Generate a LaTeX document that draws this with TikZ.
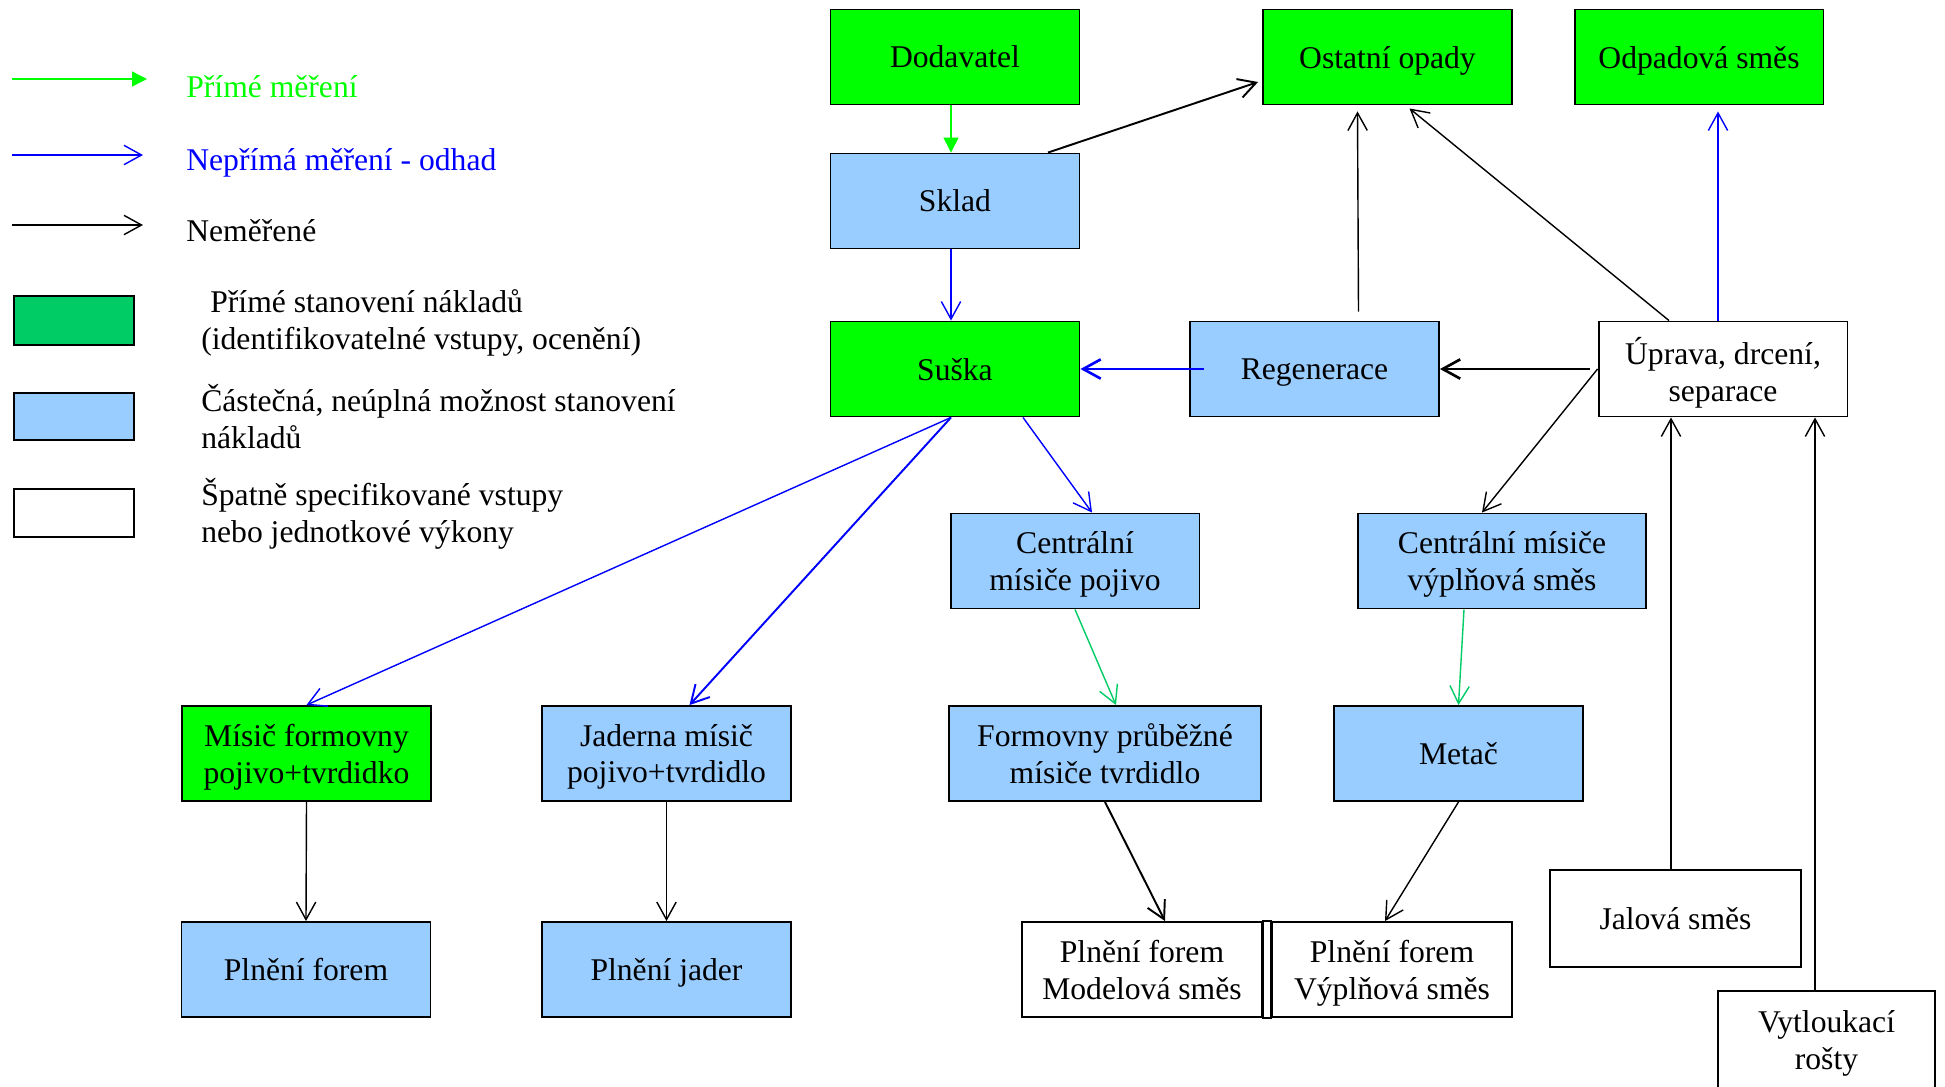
\documentclass[tikz,border=0pt]{standalone}
\usepackage{fontspec}
\setmainfont{Liberation Serif}
\usetikzlibrary{arrows.meta,calc}
\definecolor{nakgreen}{HTML}{00FF00}
\definecolor{nakteal}{HTML}{00CC66}
\definecolor{nakblue}{HTML}{0000FF}
\definecolor{naklight}{HTML}{99CCFF}

\begin{document}
\begin{tikzpicture}[x=0.02cm,y=-0.02cm,
  font=\fontsize{18}{21}\selectfont,
  box/.style={draw=black,line width=1.1pt,minimum width=4.98cm,minimum height=1.9cm,
    inner sep=0pt,align=center,text depth=0pt},
  gbox/.style={box,fill=nakgreen},
  bbox/.style={box,fill=naklight},
  wbox/.style={box,fill=white},
  legbox/.style={draw=black,line width=1.1pt},
  legtext/.style={anchor=west,align=left,inner sep=0pt},
  flow/.style={line width=0.8pt,-{Straight Barb[length=10pt,width=11pt]}},
  direct/.style={nakgreen,line width=0.8pt,-{Triangle[length=8.5pt,width=8.5pt]}}]
  \useasboundingbox (0,0) rectangle (1945,1086);

  % legend
  \draw[direct] (12,79) -- (147,79);
  \draw[flow,nakblue] (12,155) -- (143,155);
  \draw[flow] (12,225) -- (143,225);
  \node[legtext,nakgreen] (legA) at (186,87) {Přímé měření};
  \node[legtext,nakblue] (legB) at (186,163) {Nepřímá měření - odhad};
  \node[legtext] (legC) at (186,231) {Neměřené};
  \fill[nakteal] (14,296) rectangle (134,345);
  \draw[legbox] (14,296) rectangle (134,345);
  \fill[naklight] (14,393) rectangle (134,440);
  \draw[legbox] (14,393) rectangle (134,440);
  \draw[legbox] (14,489) rectangle (134,537);
  \node[legtext] (legD) at (201,323) {\hspace*{0.18cm}Přímé stanovení nákladů\\(identifikovatelné vstupy, ocenění)};
  \node[legtext] (legE) at (201,417) {Částečná, neúplná možnost stanovení\\nákladů};
  \node[legtext] (legF) at (201,514) {Špatně specifikované vstupy\\nebo jednotkové výkony};

  % boxes
  \node[gbox] (Dodavatel) at (955,57) {Dodavatel};
  \node[gbox] (Ostatni) at (1387.5,57) {Ostatní opady};
  \node[gbox] (Odpadova) at (1699,57) {Odpadová směs};
  \node[bbox] (Sklad) at (955,201) {Sklad};
  \node[gbox] (Suska) at (955,369) {Suška};
  \node[bbox] (Regenerace) at (1314.5,369) {Regenerace};
  \node[wbox] (Uprava) at (1723,369) {Úprava, drcení,\\separace};
  \node[bbox] (CentralP) at (1075,561) {Centrální\\mísiče pojivo};
  \node[bbox,minimum width=5.76cm] (CentralV) at (1502,561) {Centrální mísiče\\výplňová směs};
  \node[gbox] (Misic) at (306.5,753.5) {Mísič formovny\\pojivo+tvrdidko};
  \node[bbox] (Jaderna) at (666.5,753.5) {Jaderna mísič\\pojivo+tvrdidlo};
  \node[bbox,minimum width=6.24cm] (Formovny) at (1105,753.5) {Formovny průběžné\\mísiče tvrdidlo};
  \node[bbox] (Metac) at (1458.5,753.5) {Metač};
  \node[bbox] (PlneniF) at (306,969.5) {Plnění forem};
  \node[bbox] (PlneniJ) at (666.5,969.5) {Plnění jader};
  \node[wbox,minimum width=4.8cm] (Modelova) at (1142,969.5) {Plnění forem\\Modelová směs};
  \node[wbox,minimum width=4.8cm] (Vyplnova) at (1392,969.5) {Plnění forem\\Výplňová směs};
  \draw[line width=1.1pt] (Modelova.north east) rectangle (Vyplnova.south west);
  \node[wbox,minimum width=5.02cm,minimum height=1.94cm] (Jalova) at (1675.5,918.5) {Jalová směs};
  \node[wbox,minimum width=4.34cm,minimum height=1.96cm] (Vytloukaci) at (1826.5,1040) {Vytloukací\\rošty};

  % connectors
  \draw[direct] ($(Dodavatel.south)+(-4,0)$) -- ($(Sklad.north)+(-4,0)$);
  \draw[flow,line width=1.1pt] ($(Sklad.north)+(93,0)$) -- ($(Ostatni.west)+(-4,25)$);
  \draw[flow,nakblue] ($(Sklad.south)+(-4,0)$) -- ($(Suska.north)+(-4,0)$);
  \draw[flow,nakblue,line width=1.5pt] ($(Regenerace.west)+(15,0)$) -- (Suska.east);
  \draw[flow,line width=1.5pt] ($(Uprava.west)+(-8,0)$) -- (Regenerace.east);
  \draw[flow] ($(Regenerace.north)+(44,-9)$) -- ($(Ostatni.south)+(-30,6)$);
  \draw[flow] ($(Uprava.north)+(-54,0)$) -- ($(Ostatni.south)+(22,3)$);
  \draw[flow,nakblue] ($(Uprava.north)+(-5,0)$) -- ($(Odpadova.south)+(19,6)$);
  \draw[flow] (Uprava.west) -- ($(CentralV.north)+(-20,0)$);
  \draw[flow,nakblue] ($(Suska.south)+(-4,0)$) -- (Misic.north);
  \draw[flow,nakblue,line width=1.1pt] ($(Suska.south)+(-4,0)$) -- ($(Jaderna.north)+(23,0)$);
  \draw[flow,nakblue] ($(Suska.south)+(68,0)$) -- ($(CentralP.north)+(17,0)$);
  \draw[flow,nakteal] (CentralP.south) -- ($(Formovny.north)+(11,0)$);
  \draw[flow,nakteal] ($(CentralV.south)+(-38,0)$) -- (Metac.north);
  \draw[flow] (Misic.south) -- (PlneniF.north);
  \draw[flow] (Jaderna.south) -- (PlneniJ.north);
  \draw[flow,line width=1.1pt] (Formovny.south) -- ($(Modelova.north)+(23,0)$);
  \draw[flow] (Metac.south) -- ($(Vyplnova.north)+(-7,0)$);
  \draw[flow] ($(Jalova.north)+(-4.5,0)$) -- ($(Uprava.south)+(-52,0)$);
  \draw[flow] ($(Vytloukaci.north)+(-11.5,0)$) -- ($(Uprava.south)+(92,0)$);
\end{tikzpicture}
\end{document}
